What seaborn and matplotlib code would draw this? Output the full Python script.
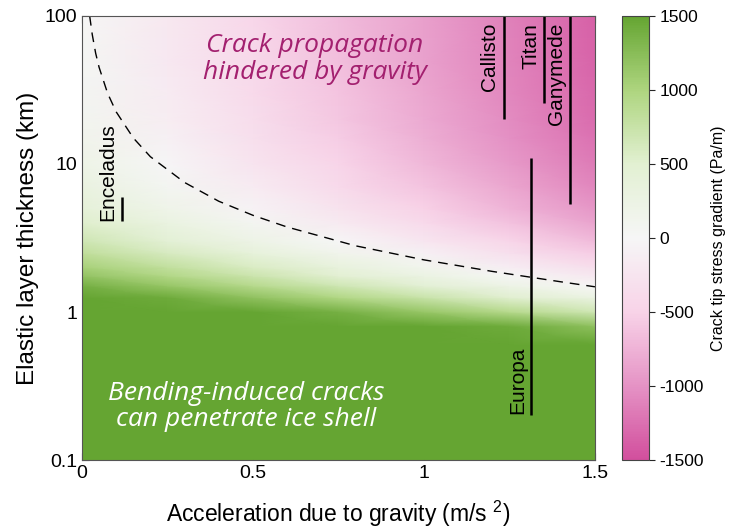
import numpy as np
import matplotlib
matplotlib.use("Agg")
import matplotlib.pyplot as plt
from matplotlib.colors import LinearSegmentedColormap
import seaborn as sns

# crack tip stress gradient (Pa/m) on a coarse grid
gravity = [0.0, 0.25, 0.5, 0.75, 1.0, 1.25, 1.5]          # m/s^2
thickness = [0.1, 0.6, 0.8, 1.0, 1.25, 1.5, 1.75, 2.0, 2.5, 3, 4, 5, 7,
             10, 15, 20, 30, 50, 100]                       # km
stress = [
    [1500, 1500, 1500, 1500, 1500, 1500, 1500],
    [1500, 1500, 1500, 1500, 1500, 1500, 1500],
    [1500, 1500, 1500, 1500, 1500, 1440, 1210],
    [1500, 1500, 1500, 1380, 1150, 920, 690],
    [1500, 1430, 1200, 970, 740, 510, 280],
    [1380, 1150, 920, 690, 460, 230, 0],
    [1180, 950, 720, 490, 260, 30, -200],
    [1040, 810, 580, 350, 120, -120, -350],
    [830, 600, 370, 140, -90, -320, -550],
    [690, 460, 230, 0, -230, -460, -690],
    [520, 290, 60, -170, -400, -630, -860],
    [410, 180, -50, -280, -510, -740, -970],
    [300, 70, -160, -390, -620, -850, -1080],
    [210, -20, -250, -480, -710, -940, -1170],
    [140, -90, -320, -550, -780, -1010, -1240],
    [100, -130, -360, -590, -820, -1050, -1280],
    [70, -160, -390, -620, -850, -1080, -1310],
    [40, -190, -420, -650, -880, -1110, -1340],
    [20, -210, -440, -670, -900, -1130, -1360],
]

# zero-gradient boundary (dashed line)
curve_g = [0.0225, 0.03, 0.04, 0.05, 0.075, 0.1, 0.15, 0.2, 0.3, 0.4, 0.5,
           0.6, 0.8, 1.0, 1.2, 1.4, 1.5]
curve_h = [100, 75, 56, 45, 30, 22.5, 15, 11.2, 7.5, 5.6, 4.5, 3.75, 2.8,
           2.25, 1.88, 1.6, 1.48]

# moons: gravity and elastic thickness range
moons = ["Enceladus", "Callisto", "Titan", "Ganymede", "Europa"]
moon_g = [0.117, 1.235, 1.352, 1.428, 1.314]
moon_hmin = [4.1, 20, 26, 5.4, 0.2]
moon_hmax = [6.0, 100, 100, 100, 11]

cbar_ticks = [-1500, -1000, -500, 0, 500, 1000, 1500]

sns.set_style("ticks")
plt.rcParams["font.family"] = ["Liberation Sans", "DejaVu Sans"]
plt.rcParams["mathtext.fontset"] = "custom"
plt.rcParams["mathtext.rm"] = "Liberation Sans"
plt.rcParams["axes.unicode_minus"] = False
for k in ["text.color", "axes.labelcolor", "xtick.labelcolor",
          "ytick.labelcolor"]:
    plt.rcParams[k] = "black"

cmap = LinearSegmentedColormap.from_list("pg", [
    (0.0, "#d24f9d"), (0.167, "#e593c5"), (0.333, "#f8d3e8"),
    (0.5, "#f6f6f6"), (0.667, "#e2f0d2"), (0.833, "#aed57f"),
    (1.0, "#65a532")])

fig = plt.figure(figsize=(7.3, 5.32), dpi=100)
ax = fig.add_axes([0.1123, 0.1353, 0.7027, 0.8347])
cax = fig.add_axes([0.852, 0.1353, 0.037, 0.8347])

G, H = np.meshgrid(gravity, thickness)
mesh = ax.pcolormesh(G, H, np.array(stress), shading="gouraud", cmap=cmap,
                     vmin=-1500, vmax=1500, rasterized=True)
ax.set_yscale("log")
ax.set_xlim(0, 1.5)
ax.set_ylim(0.1, 100)

sns.lineplot(x=curve_g, y=curve_h, ax=ax, color="k", lw=1,
             linestyle=(0, (7, 5)), legend=False)

ax.vlines(moon_g, moon_hmin, moon_hmax, color="k", lw=1.8)

# moon labels
lab_kw = dict(rotation=90, fontsize=15, ha="center")
ax.text(0.076, 4.15, moons[0], va="bottom", **lab_kw)
ax.text(1.193, 90, moons[1], va="top", **lab_kw)
ax.text(1.313, 90, moons[2], va="top", **lab_kw)
ax.text(1.389, 90, moons[3], va="top", **lab_kw)
ax.text(1.275, 0.205, moons[4], va="bottom", **lab_kw)

ax.text(0.68, 51, "Crack propagation\nhindered by gravity", ha="center",
        va="center", fontsize=19, style="italic", color="#a3206f",
        family=["Open Sans", "DejaVu Sans"], linespacing=1.1)
ax.text(0.48, 0.23, "Bending-induced cracks\ncan penetrate ice shell",
        ha="center", va="center", fontsize=19, style="italic", color="white",
        family=["Open Sans", "DejaVu Sans"], linespacing=1.1)

ax.set_xticks([0, 0.5, 1, 1.5])
ax.set_xticklabels(["0", "0.5", "1", "1.5"])
ax.set_yticks([0.1, 1, 10, 100])
ax.set_yticklabels(["0.1", "1", "10", "100"])
ax.minorticks_off()
ax.tick_params(direction="in", top=True, right=True, labelsize=14,
               length=5, width=0.8, color="#333333")
for s in ax.spines.values():
    s.set_color("#555555")
    s.set_linewidth(0.8)
ax.set_xlabel("Acceleration due to gravity (m/s $^2$)", fontsize=16.5,
              labelpad=12)
ax.set_ylabel("Elastic layer thickness (km)", fontsize=17.5, labelpad=4)

cb = fig.colorbar(mesh, cax=cax, ticks=cbar_ticks)
cb.ax.set_yticklabels([str(t) for t in cbar_ticks])
cb.ax.tick_params(labelsize=12.5, length=4, width=0.8)
cb.outline.set_edgecolor("#444444")
cb.outline.set_linewidth(0.8)
cb.set_label("Crack tip stress gradient (Pa/m)", fontsize=11.5, labelpad=5)

fig.savefig("out.png", dpi=100)
